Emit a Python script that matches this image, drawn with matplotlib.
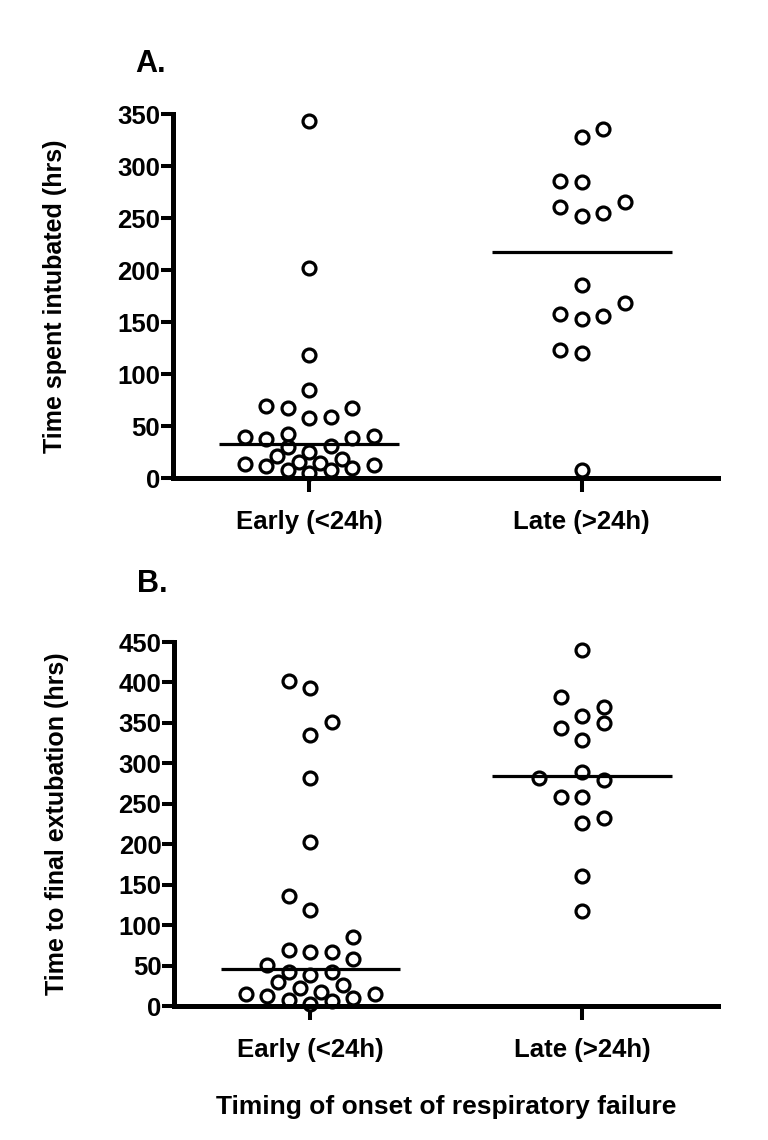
import numpy as np
import matplotlib
matplotlib.use("Agg")
import matplotlib.pyplot as plt

plt.rcParams['font.family'] = ['Liberation Sans', 'DejaVu Sans']
plt.rcParams['font.weight'] = 'bold'

groups = ["Early (<24h)", "Late (>24h)"]

# Panel A: time spent intubated (hrs)
a_early = [343, 202, 118, 84.6, 69, 67, 67.6, 57.4, 59, 39, 37.5, 42, 38, 40.4,
           30.8, 29.5, 21.5, 25, 13, 11.5, 15.7, 14.7, 18, 10, 12.5, 7.7, 4.5, 7.7]
a_early_slot = [0, 0, 0, 0, -2, -1, 2, 0, 1, -3, -2, -1, 2, 3,
                1, -1, -1.5, 0, -3, -2, -0.5, 0.5, 1.5, 2, 3, -1, 0, 1]
a_late = [335.3, 327.6, 285.9, 285, 265.7, 260.9, 252, 254.5, 185.6, 168.6,
          157.7, 152.6, 155.8, 123, 119.9, 7.7]
a_late_slot = [1, 0, -1, 0, 2, -1, 0, 1, 0, 2, -1, 0, 1, -1, 0, 0]
a_medians = [32.7, 217.6]

# Panel B: time to final extubation (hrs)
b_early = [401.4, 393.2, 350.6, 335.4, 281.8, 203.4, 136.1, 118.8, 85.8, 69.3,
           67.2, 67.2, 57.8, 50.7, 42.5, 38.4, 42.5, 30.1, 26, 21.9, 17.7, 14.9,
           12.4, 9.5, 14.9, 7.4, 2.5, 6.6]
b_early_slot = [-1, 0, 1, 0, 0, 0, -1, 0, 2, -1, 0, 1, 2, -2, -1, 0, 1, -1.5,
                1.5, -0.5, 0.5, -3, -2, 2, 3, -1, 0, 1]
b_late = [440.6, 382, 369.7, 358.9, 349.9, 343.7, 328.4, 288.8, 281.8, 279.7,
          259, 259, 226.9, 232.3, 160.9, 118]
b_late_slot = [0, -1, 1, 0, 1, -1, 0, 0, -2, 1, -1, 0, 0, 1, 0, 0]
b_medians = [45.4, 285]

a_ticks = [0, 50, 100, 150, 200, 250, 300, 350]
b_ticks = [0, 50, 100, 150, 200, 250, 300, 350, 400, 450]

SLOT = 0.079
HALF = 0.33

fig = plt.figure(figsize=(7.68, 11.4), dpi=100)
axA = fig.add_axes([0.2253, 0.5807, 0.7096, 0.3193])
axB = fig.add_axes([0.2272, 0.1175, 0.7077, 0.3193])


def draw(ax, early, eslot, late, lslot, medians, ticks, ylabel):
    for i, (vals, slots) in enumerate([(early, eslot), (late, lslot)]):
        xc = i + 1
        xs = xc + np.array(slots) * SLOT
        ax.plot(xs, vals, linestyle='none', marker='o', markersize=9.3,
                markerfacecolor='white', markeredgecolor='black',
                markeredgewidth=2.3, clip_on=False, zorder=2)
        ax.plot([xc - HALF, xc + HALF], [medians[i], medians[i]],
                color='black', lw=2.3, zorder=3, solid_capstyle='butt')
    ax.set_xlim(0.5, 2.5)
    ax.set_ylim(0, ticks[-1])
    ax.set_yticks(ticks)
    ax.set_xticks([1, 2])
    ax.set_xticklabels(groups)
    for s in ['top', 'right']:
        ax.spines[s].set_visible(False)
    for s in ['left', 'bottom']:
        ax.spines[s].set_linewidth(3.6)
    ax.tick_params(axis='y', length=8.6, width=2.9, pad=0.8, labelsize=18.5)
    ax.tick_params(axis='x', length=10, width=2.9, pad=13, labelsize=18.5)
    for lab in ax.get_xticklabels() + ax.get_yticklabels():
        lab.set_fontweight('bold')
    ax.set_ylabel(ylabel, fontsize=18, fontweight='bold')
    ax.yaxis.set_label_coords(-0.195, 0.5)


draw(axA, a_early, a_early_slot, a_late, a_late_slot, a_medians, a_ticks,
     "Time spent intubated (hrs)")
draw(axB, b_early, b_early_slot, b_late, b_late_slot, b_medians, b_ticks,
     "Time to final extubation (hrs)")

fig.text(135 / 768, 1 - 64 / 1140, "A.", fontsize=22, fontweight='bold',
         ha='left', va='center')
fig.text(137 / 768, 1 - 584 / 1140, "B.", fontsize=22, fontweight='bold',
         ha='left', va='center')
fig.text(446 / 768, 1 - 1107 / 1140, "Timing of onset of respiratory failure",
         fontsize=19, fontweight='bold', ha='center', va='center')

fig.savefig("out.png", dpi=100, facecolor='white')
